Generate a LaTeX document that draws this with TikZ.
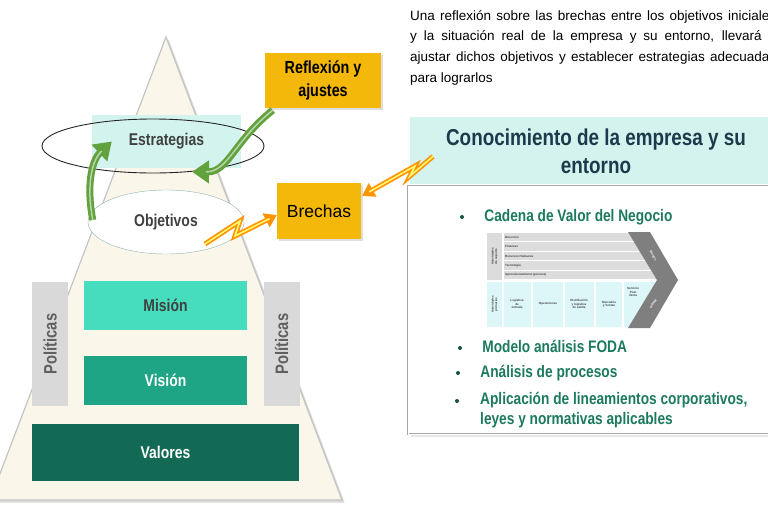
\documentclass[tikz,border=0pt]{standalone}
\usepackage{fontspec}
\setmainfont{Liberation Sans}
\newfontfamily\narrowfont[FakeStretch=0.82]{Liberation Sans}
\usetikzlibrary{positioning,arrows.meta,calc,shapes.geometric,shadows}

\definecolor{cream}{HTML}{FBF6EA}
\definecolor{pyredge}{HTML}{C4C4C4}
\definecolor{stratfill}{HTML}{D3F4EE}
\definecolor{misionfill}{HTML}{45DDBD}
\definecolor{visionfill}{HTML}{1EA586}
\definecolor{valorfill}{HTML}{136A54}
\definecolor{polgray}{HTML}{D9D9D9}
\definecolor{gold}{HTML}{F4B80B}
\definecolor{titleband}{HTML}{D5F3EE}
\definecolor{titletext}{HTML}{1B3A4B}
\definecolor{bullettext}{HTML}{1C7A5E}
\definecolor{arrowgreen}{HTML}{62A23E}
\definecolor{chainsupport}{HTML}{DCDCDC}
\definecolor{chainprimary}{HTML}{DDF6F8}
\definecolor{chevron}{HTML}{7F7F7F}
\definecolor{labelgray}{HTML}{404040}
\definecolor{objedge}{HTML}{8FB5B0}

\begin{document}
\begin{tikzpicture}[x=1pt,y=1pt,
  layer/.style={minimum width=163pt,minimum height=49pt,inner sep=0pt,font=\narrowfont\bfseries\fontsize{17}{18}\selectfont},
  sidebar/.style={fill=polgray,minimum width=124pt,minimum height=36pt,rotate=90,inner sep=0pt,text=gray!75!black,font=\narrowfont\bfseries\fontsize{18}{20}\selectfont},
  goldbox/.style={fill=gold,inner sep=0pt,drop shadow={opacity=0.25,shadow xshift=1.5pt,shadow yshift=-1.5pt}},
  garrow/.style={draw=arrowgreen,line width=7pt,-{Triangle[length=17pt,width=22pt]},postaction={draw=arrowgreen!45!white,line width=1.5pt,-,shorten >=14pt}},
  bolt/.style={draw=orange!85!yellow,line width=5pt,line join=miter,-{Triangle[length=12pt,width=15pt]},postaction={draw=yellow!55!white,line width=1.6pt,-,shorten >=8pt}},
  item/.style={anchor=west,inner sep=0pt,text=bullettext,font=\narrowfont\bfseries\fontsize{16.7}{20}\selectfont},
  oneline/.style={text height=12pt,text depth=3.5pt},
  dot/.style={circle,fill=bullettext!70!black,inner sep=0pt,minimum size=4pt},
  tiny/.style={inner sep=0pt,font=\bfseries\fontsize{3}{3.5}\selectfont,text=black!75,align=center}
]
\useasboundingbox (0,0) rectangle (768,-512);
\clip (0,0) rectangle (768,-512);

% pyramid
\fill[cream,draw=pyredge,line width=1.2pt,drop shadow={opacity=0.3}] (166,-37) -- (342,-500) -- (-10,-500) -- cycle;

\node[layer,fill=stratfill,minimum width=149pt,minimum height=53pt,text=labelgray] (strat) at (166.5,-141.5) {Estrategias};
\node[draw=black!85,line width=0.9pt,ellipse,minimum width=222pt,minimum height=54pt] (ring) at (153,-146) {};
\node[layer,ellipse,draw=objedge,fill=white,minimum width=156pt,minimum height=64pt,text=labelgray] (obj) at (166,-222) {Objetivos};

\node[layer,fill=misionfill,text=labelgray] (mision) at (165.5,-305.5) {Misión};
\node[layer,fill=visionfill,text=white] (vision) at (165.5,-380.5) {Visión};
\node[layer,fill=valorfill,text=white,minimum width=267pt,minimum height=57pt] (valores) at (165.5,-452.5) {Valores};
\node[sidebar] (polleft) at (50,-344) {Políticas};
\node[sidebar] (polright) at (281.5,-344) {Políticas};

% gold boxes
\node[goldbox,minimum width=116pt,minimum height=55pt,align=center,font=\narrowfont\bfseries\fontsize{17.5}{23}\selectfont] (reflex) at (323,-80.5) {Reflexión y\\ajustes};
\node[goldbox,minimum width=84pt,minimum height=56pt,font=\fontsize{17.5}{20}\selectfont] (brechas) at (319,-211) {Brechas};

% green arrows
\draw[garrow] ($(obj.west)+(5,2)$) .. controls (86,-185) and (92,-160) .. ($(strat.west)+(20,0)$);
\draw[garrow] ($(reflex.south west)+(8,-2)$) .. controls (235,-140) and (228,-172) .. ($(obj.north)+(26,18)$);

% intro text
\node[anchor=north west,text width=366pt,align=justify,inner sep=0pt,font=\fontsize{13.5}{20.7}\selectfont] (intro) at (410,-10)
  {Una reflexión sobre las brechas entre los objetivos iniciales\linebreak y la situación real de la empresa y su entorno, llevará a\linebreak ajustar dichos objetivos y establecer estrategias adecuadas\linebreak para lograrlos};

% right panel
\node[anchor=north west,fill=white,draw=gray!70,double=white,double distance=1pt,minimum width=380pt,minimum height=248pt,drop shadow={opacity=0.2}] (panel) at (408,-186) {};
\node[anchor=north west,fill=titleband,minimum width=370pt,minimum height=67pt,inner sep=0pt] (band) at (410,-117) {};
\node[align=center,text=titletext,font=\narrowfont\bfseries\fontsize{23}{28}\selectfont] (title) at (596,-151) {Conocimiento de la empresa y su\\entorno};

% lightning
\coordinate (boltstart) at (205,-244);
\draw[bolt] (boltstart) -- (240,-221) -- (235,-236) -- ($(brechas.west)+(0,-4)$);
\coordinate (bolttail) at ($(band.south west)+(23,28)$);
\draw[bolt] (bolttail) -- (410,-176) -- (415,-166) -- ($(brechas.north east)+(1,-13)$);

% bullets
\node[dot] (dot1) at (462,-217) {};
\node[item,oneline,right=20pt of dot1] (item1) {Cadena de Valor del Negocio};
\node[dot] (dot2) at (460,-348) {};
\node[item,oneline,right=20pt of dot2] (item2) {Modelo análisis FODA};
\node[dot] (dot3) at (458,-373) {};
\node[item,oneline,right=20pt of dot3] (item3) {Análisis de procesos};
\node[dot] (dot4) at (457,-401) {};
\node[item,anchor=north west,align=left] (item4) at (480,-392) {Aplicación de lineamientos corporativos,\\leyes y normativas aplicables};

% value chain
\fill[chainsupport] (487,-233) rectangle (502,-280);
\node[tiny,rotate=90] (support) at (494.5,-256.5) {Actividades\\de soporte};
\foreach \lbl [count=\i from 0] in {Dirección,Finanzas,Recursos Humanos,Tecnología,Aprovisionamiento (procura)} {
  \pgfmathsetmacro\ytop{233+9.4*\i}
  \pgfmathsetmacro\ybot{\ytop+8.4}
  \pgfmathsetmacro\xend{629+(\ybot-233)*29/47}
  \fill[chainsupport] (503.5,-\ytop) rectangle (\xend,-\ybot);
  \node[tiny,anchor=west] (row\i) at (505,-\ytop-4.2) {\lbl};
}
\fill[chainprimary] (487,-282) rectangle (502,-327);
\node[tiny,rotate=90] (primary) at (494.5,-304.5) {Actividades\\primarias};
\fill[chainprimary] (503.5,-282) -- (657,-282) -- (629,-327) -- (503.5,-327) -- cycle;
\foreach \xs in {532,564,595,623}
  \draw[white,line width=1.2pt] (\xs,-282) -- (\xs,-327);
\node[tiny] (log) at (517,-304) {Logística\\de\\entrada};
\node[tiny] (ops) at (548,-304) {Operaciones};
\node[tiny] (dist) at (579,-304) {Distribución\\y logística\\de salida};
\node[tiny] (merc) at (609,-304) {Mercados\\y Ventas};
\node[tiny] (serv) at (633,-292) {Servicio\\Post\\Venta};
\fill[chevron] (628,-232) -- (650,-232) -- (678,-280) -- (650,-328) -- (628,-328) -- (657,-280) -- cycle;
\node[tiny,text=white,rotate=-59] (margin1) at (653,-256) {Margen};
\node[tiny,text=white,rotate=-121] (margin2) at (653,-304) {Margen};
\end{tikzpicture}
\end{document}
